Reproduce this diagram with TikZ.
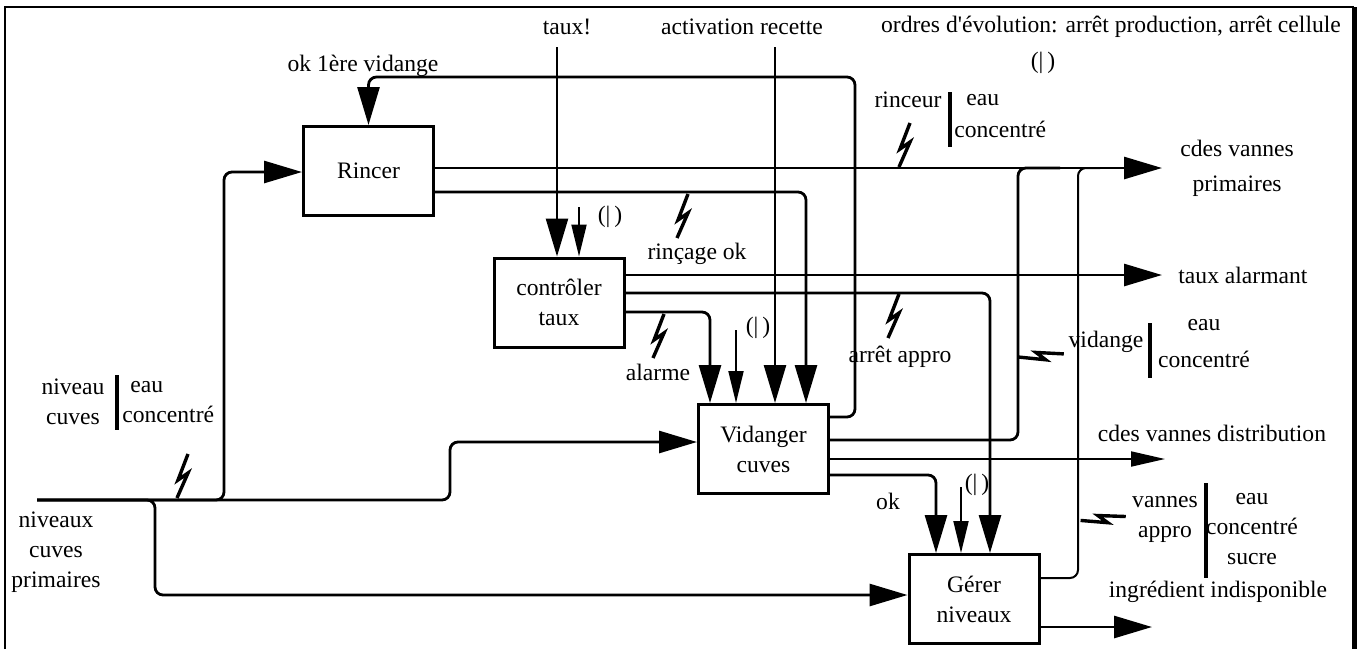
\documentclass[tikz,border=0pt]{standalone}
\usepackage{fontspec}
\setmainfont{Liberation Serif}
\usetikzlibrary{arrows.meta,positioning,calc}

\begin{document}
\begin{tikzpicture}[
    x=0.5pt, y=-0.5pt,
    font=\fontsize{11.8}{15}\selectfont,
    box/.style={draw, line width=1.5pt, minimum width=65pt, minimum height=44.5pt, align=center, inner sep=2pt},
    lbl/.style={inner sep=1pt, align=center},
    flow/.style={line width=1.4pt, rounded corners=4pt},
    fine/.style={line width=1pt, rounded corners=4pt},
    arrow/.style={flow, -{Triangle[length=19pt,width=11pt]}},
    farrow/.style={fine, -{Triangle[length=17pt,width=7.5pt]}},
    ordre/.style={line width=1pt, -{Triangle[length=16pt,width=7.5pt]}},
    bar/.style={line width=1.6pt},
    spark/.pic={\draw[line width=1.7pt, line join=miter] (6,-22) -- (-4,4) -- (6,-3) -- (-5,22);}
]
    \useasboundingbox (0,0) rectangle (1366,649);

    % frame
    \draw[line width=1.2pt] (5,649) -- (5,7) -- (1354,7);
    \draw[line width=2.5pt] (1354,7) -- (1354,649);

    % activities
    \node[box] (rincer) at (368.5,171) {Rincer};
    \node[box] (ctrl) at (559,302.5) {contrôler\\taux};
    \node[box] (vidanger) at (763.5,449) {Vidanger\\cuves};
    \node[box] (gerer) at (974,599) {Gérer\\niveaux};

    % inputs on the left
    \coordinate (in) at (37,500);
    \node[lbl] (niv) at (56,552) {niveaux\\cuves\\primaires};
    \draw[arrow] (in) -- (224,500) -- (224,172) -- (rincer.west |- 0,172);
    \draw[arrow] (in) -- (450,500) -- (450,442) -- (vidanger.west |- 0,442);
    \draw[arrow] (in) -- (155,500) -- (155,595) -- (gerer.west |- 0,595);
    \pic at (182,476) {spark};
    \node[lbl] (nivc) at (73,402) {niveau\\cuves};
    \draw[bar] (117,375) -- (117,430);
    \node[lbl, align=left, anchor=west] (nivq) at (120,402) {\hspace{4pt}eau\\concentré};

    % controls from the top
    \node[lbl] (tauxin) at (567,27) {taux!};
    \coordinate (tauxtop) at (557,47);
    \draw[arrow, line width=1.3pt] (tauxtop) -- (tauxtop |- ctrl.north);
    \node[lbl] (recette) at (742,27) {activation recette};
    \coordinate (rectop) at (775,47);
    \draw[arrow, line width=1.3pt] (rectop) -- (rectop |- vidanger.north);
    \node[lbl] (ordres) at (1111,27) {ordres d\textquotesingle évolution: arrêt production, arrêt cellule};
    \node[lbl] (ordmark) at (1043,63) {(|\,)};

    % small evolution orders
    \coordinate (o1) at (579,207);
    \draw[ordre] (o1) -- (o1 |- ctrl.north);
    \node[lbl] (o1lbl) at (610,217) {(|\,)};
    \coordinate (o2) at (736,330);
    \draw[ordre] (o2) -- (o2 |- vidanger.north);
    \node[lbl] (o2lbl) at (758,328) {(|\,)};
    \coordinate (o3) at (961,487);
    \draw[ordre] (o3) -- (o3 |- gerer.north);
    \node[lbl] (o3lbl) at (977,485) {(|\,)};

    % Rincer outputs
    \coordinate (prim) at (1162,168);
    \draw[arrow] (rincer.east |- prim) -- (prim);
    \node[lbl, right=8pt of prim] (primlbl) {cdes vannes\\[2.5pt]primaires};
    \pic at (904,145) {spark};
    \node[lbl] (rinceur) at (908,100) {rinceur};
    \draw[bar] (950,92) -- (950,147);
    \node[lbl, align=left, anchor=west] (rinceurq) at (952,116) {\hspace{6pt}eau\\[1pt]concentré};
    \draw[arrow] (rincer.east |- 0,192) -- (806,192) -- (806,0 |- vidanger.north);
    \pic at (682,216) {spark};
    \node[lbl] (rincok) at (697,254) {rinçage ok};

    % return to Rincer
    \draw[arrow] (vidanger.east |- 0,417) -- (855,417) -- (855,77) -- (rincer.north |- 0,77) -- (rincer.north);
    \node[lbl] (okvid) at (363,66) {ok 1ère vidange};

    % contrôler taux outputs
    \coordinate (alarm) at (1162,275);
    \draw[arrow] (ctrl.east |- alarm) -- (alarm);
    \node[lbl, right=7pt of alarm] (alarmlbl) {taux alarmant};
    \draw[arrow] (ctrl.east |- 0,293) -- (990,293) -- (990,0 |- gerer.north);
    \pic at (893,316) {spark};
    \node[lbl] (arret) at (900,357) {arrêt appro};
    \draw[arrow] (ctrl.east |- 0,312) -- (710,312) -- (710,0 |- vidanger.north);
    \pic at (658,336) {spark};
    \node[lbl] (alarme) at (658,372) {alarme};

    % Vidanger cuves outputs
    \draw[flow] (vidanger.east |- 0,440) -- (1018,440) -- (1018,168) -- (1060,168);
    \pic[rotate=-72] at (1041,355) {spark};
    \node[lbl] (vidlbl) at (1106,342) {vidange};
    \draw[bar] (1150,323) -- (1150,378);
    \node[lbl] (vidq) at (1204,343.5) {eau\\[3.5pt]concentré};
    \coordinate (dist) at (1165,459);
    \draw[farrow] (vidanger.east |- dist) -- (dist);
    \node[lbl] (distlbl) at (1212,433) {cdes vannes distribution};
    \draw[arrow] (vidanger.east |- 0,475) -- (936,475) -- (936,0 |- gerer.north);
    \node[lbl] (ok) at (888,501) {ok};

    % Gérer niveaux outputs
    \draw[fine] (gerer.east |- 0,578) -- (1078,578) -- (1078,168) -- (1100,168);
    \pic[rotate=-71] at (1103,518) {spark};
    \node[lbl] (vannes) at (1165,519) {vannes\\appro};
    \draw[bar] (1206,483) -- (1206,578);
    \node[lbl] (vannesq) at (1252,529) {eau\\concentré\\sucre};
    \coordinate (indisp) at (1152,627);
    \draw[arrow] (gerer.east |- indisp) -- (indisp);
    \node[lbl] (indisplbl) at (1218,592) {ingrédient indisponible};
\end{tikzpicture}
\end{document}
